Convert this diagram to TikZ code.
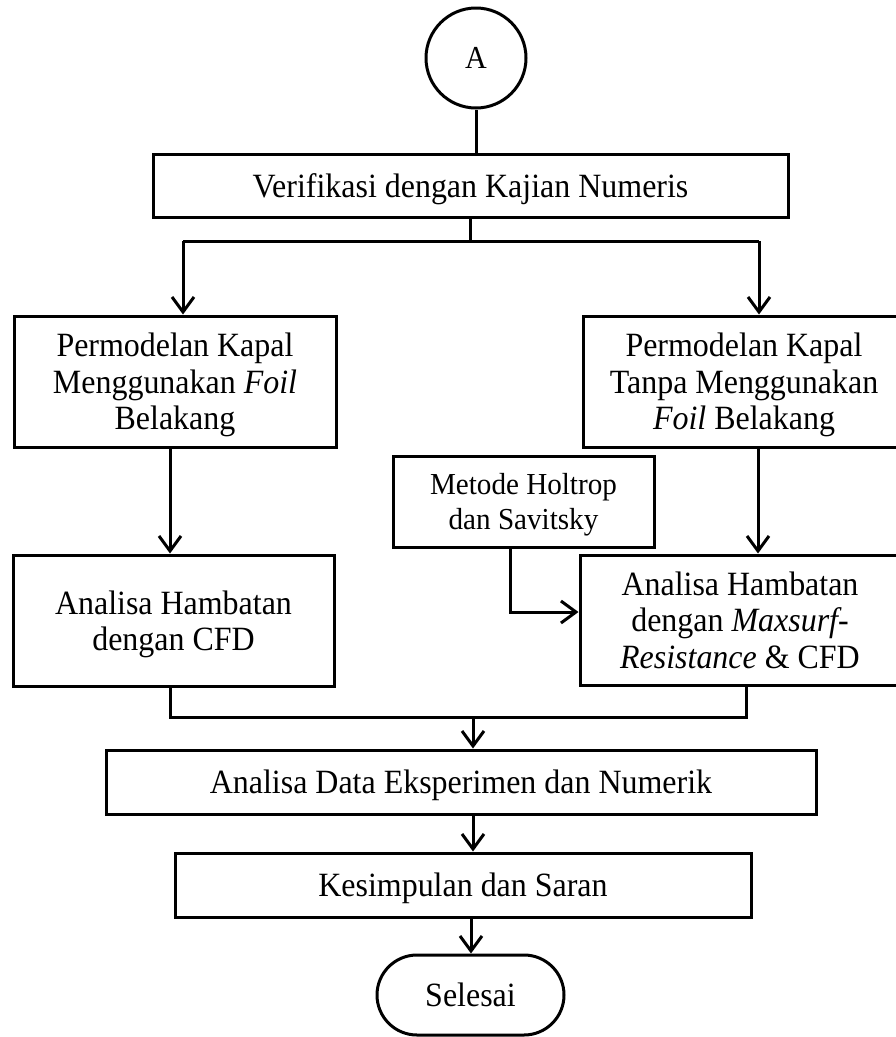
\documentclass[tikz,border=0pt]{standalone}
\usepackage{fontspec}
\setmainfont{Liberation Serif}[FakeStretch=0.94]
\newfontfamily\smallfam{Liberation Serif}[FakeStretch=0.955]
\usetikzlibrary{arrows.meta,shapes.misc}
\begin{document}
\begin{tikzpicture}[x=1pt,y=-1pt,
  line width=3pt,
  box/.style={draw, rectangle, align=center, inner sep=0pt, text depth=0pt, font=\fontsize{34}{36.5}\selectfont},
  smallbox/.style={draw, rectangle, align=center, inner sep=0pt, text depth=0pt, font=\smallfam\fontsize{30.5}{35}\selectfont},
  arr/.style={-{Straight Barb[length=15pt,width=22pt,line width=3pt]}},
  ]
\useasboundingbox (0,0) rectangle (895,1037);
% nodes
\node[draw, circle, minimum size=100pt, inner sep=0pt, text depth=0pt, font=\fontsize{32}{36}\selectfont] (A) at (476,58) {A};
\node[box, minimum width=635pt, minimum height=63pt] (verif) at (470.5,185.5) {Verifikasi dengan Kajian Numeris};
\node[box, minimum width=322pt, minimum height=131pt] (lb1) at (175,381.5) {Permodelan Kapal\\Menggunakan \textit{Foil}\\Belakang};
\node[box, minimum width=322pt, minimum height=131pt] (rb1) at (744,381.5) {Permodelan Kapal\\Tanpa Menggunakan\\\textit{Foil} Belakang};
\node[smallbox, minimum width=261pt, minimum height=91pt] (met) at (523.5,501.5) {Metode Holtrop\\dan Savitsky};
\node[box, minimum width=321pt, minimum height=131pt] (lb2) at (173.5,620.5) {Analisa Hambatan\\dengan CFD};
\node[box, minimum width=320pt, minimum height=130pt] (rb2) at (740,620) {Analisa Hambatan\\dengan \textit{Maxsurf-}\\\textit{Resistance} \& CFD};
\node[box, minimum width=710pt, minimum height=64pt] (data) at (461,782) {Analisa Data Eksperimen dan Numerik};
\node[box, minimum width=576pt, minimum height=64pt] (kes) at (463,885) {Kesimpulan dan Saran};
\node[draw, rounded rectangle, minimum width=187pt, minimum height=80pt, inner sep=0pt, text depth=0pt, font=\fontsize{34}{36.5}\selectfont] (sel) at (470.5,995) {Selesai};
% helper coordinates
\coordinate (ys) at (0,241);
\coordinate (tl) at (183,241);
\coordinate (tr) at (759,241);
\coordinate (xl) at (170,0);
\coordinate (xr) at (758,0);
\coordinate (xm) at (510,0);
\coordinate (ym) at (0,612);
\coordinate (xb) at (746,0);
\coordinate (yb) at (0,717);
\coordinate (xc) at (473,0);
\coordinate (xk) at (471,0);
% connectors
\draw (A.south) -- (A.south |- verif.north);
\draw (verif.south) -- (verif.south |- ys);
\draw (tl) -- (tr);
\draw[arr] (tl) -- (tl |- lb1.north);
\draw[arr] (tr) -- (tr |- rb1.north);
\draw[arr] (lb1.south -| xl) -- (lb2.north -| xl);
\draw[arr] (rb1.south -| xr) -- (rb2.north -| xr);
\draw[arr] (met.south -| xm) |- (rb2.west |- ym);
\draw (lb2.south -| xl) |- (xb |- yb) -- (rb2.south -| xb);
\draw[arr] (xc |- yb) -- (data.north -| xc);
\draw[arr] (data.south -| xc) -- (kes.north -| xc);
\draw[arr] (kes.south -| xk) -- (sel.north -| xk);
\end{tikzpicture}
\end{document}
